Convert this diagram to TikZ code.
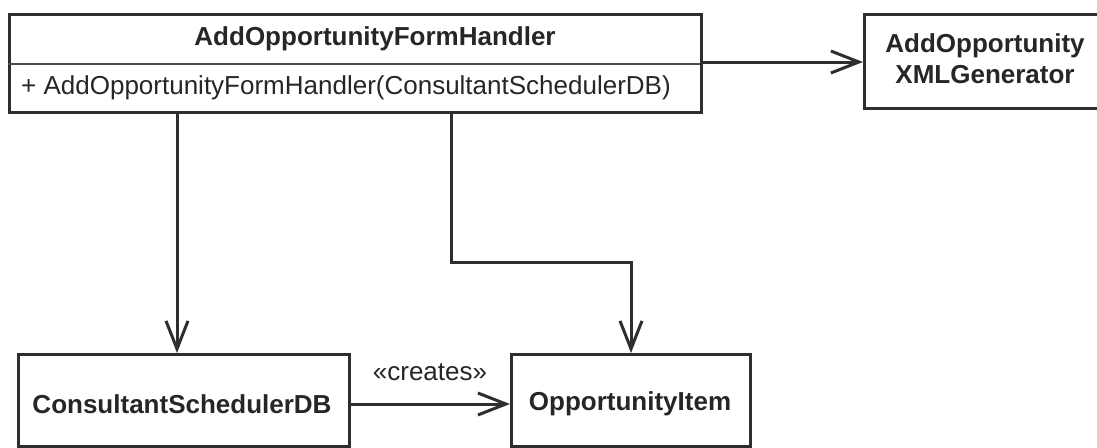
\documentclass[tikz,border=0pt]{standalone}
\usepackage{fontspec}
\setmainfont{Liberation Sans}
\usetikzlibrary{arrows.meta,calc}
\begin{document}
\begin{tikzpicture}[x=1pt,y=-1pt,
  classbox/.style={draw=black!82,line width=3.4pt,minimum width=#1,inner sep=0pt,anchor=north west},
  assoc/.style={draw=black!82,line width=3pt,-{Straight Barb[length=28pt,width=22pt,line width=3pt]}},
  bold/.style={font=\fontsize{26}{31}\selectfont\bfseries,text=black!85},
  plain/.style={font=\fontsize{26}{31}\selectfont,text=black!85}]
\useasboundingbox (0,0) rectangle (1097,447);
\fill[white] (0,0) rectangle (1097,447);

% handler class with one operation compartment
\node[classbox=692pt,minimum height=98pt] (handler) at (8,13) {};
\draw[black!70,line width=1.6pt] (8,64) coordinate (divl) -- (700,64) coordinate (divr);
\node[bold] (handlername) at (375,39) {AddOpportunityFormHandler};
\node[plain,anchor=west,inner sep=0pt] (handlerop) at (21,88) {+ AddOpportunityFormHandler(ConsultantSchedulerDB)};

% XML generator class (runs off the right edge)
\node[classbox=250pt,minimum height=94pt] (xmlgen) at (863,13) {};
\node[bold,align=center] (xmlname) at (985,59) {AddOpportunity\\XMLGenerator};

% bottom classes
\node[classbox=331pt,minimum height=92pt] (csdb) at (17,353) {};
\node[bold] (csdbname) at (182,404) {ConsultantSchedulerDB};
\node[classbox=239pt,minimum height=92pt] (item) at (510,353) {};
\node[bold] (itemname) at (630,404) {OpportunityItem};

% connectors
\coordinate (h1) at (177,111);
\coordinate (h2) at (451,111);
\coordinate (bend) at (631,262);
\draw[assoc] (handler.east |- 0,62) -- (xmlgen.west |- 0,62);
\draw[assoc] (h1) -- (h1 |- csdb.north);
\draw[assoc] (h2) -- (h2 |- bend) -- (bend) -- (bend |- item.north);
\draw[assoc] (csdb.east |- 0,404) -- (item.west |- 0,404);
\node[plain] (creates) at (430,372) {«creates»};
\end{tikzpicture}
\end{document}
